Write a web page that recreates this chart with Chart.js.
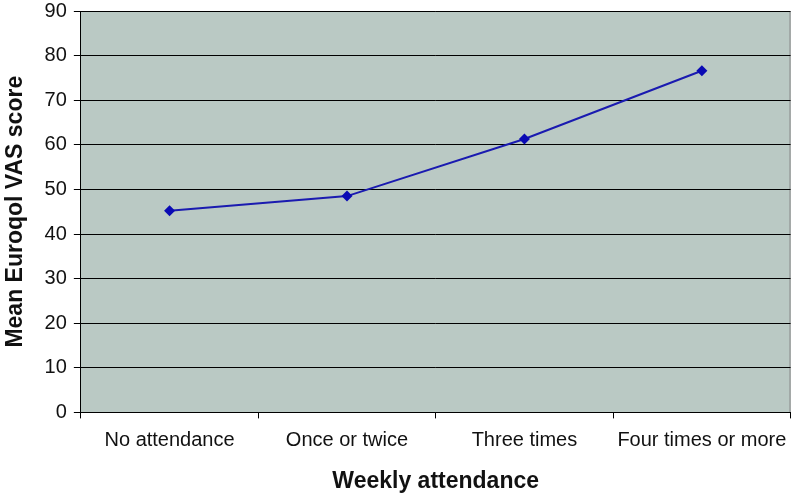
<!DOCTYPE html>
<html>
<head>
<meta charset="utf-8">
<script src="https://cdn.jsdelivr.net/npm/chart.js@4/dist/chart.umd.min.js"></script>
<style>
html, body { margin: 0; padding: 0; background: #fff; overflow: hidden; }
#wrap { width: 797px; height: 503px; margin-top: -8px; }
</style>
</head>
<body>
<div id="wrap"><canvas id="chart"></canvas></div>
<script>
var categories = ["No attendance", "Once or twice", "Three times", "Four times or more"];
var vasScores = [45.2, 48.5, 61.3, 76.6];
var yTicks = [0, 10, 20, 30, 40, 50, 60, 70, 80, 90];

// grey-green plot background like the original spreadsheet chart
var plotBg = {
  id: 'plotBg',
  beforeDraw: function (chart) {
    var a = chart.chartArea, ctx = chart.ctx;
    ctx.save();
    ctx.fillStyle = '#bac9c4';
    ctx.fillRect(a.left, a.top, a.right - a.left, a.bottom - a.top);
    ctx.strokeStyle = '#808080';
    ctx.lineWidth = 1;
    ctx.beginPath();
    ctx.moveTo(a.left, a.top + 0.5);
    ctx.lineTo(a.right - 0.5, a.top + 0.5);
    ctx.lineTo(a.right - 0.5, a.bottom);
    ctx.stroke();
    ctx.restore();
  }
};

var FONT = 'Liberation Sans, Arial, sans-serif';
var CHART = document.getElementById("chart");
var lineChart = new Chart(CHART, {
  type: 'line',
  data: {
    labels: categories,
    datasets: [{
      data: vasScores,
      borderColor: '#1a1ab0',
      backgroundColor: '#0a0ab4',
      borderWidth: 2,
      pointStyle: 'rectRot',
      pointRadius: 5.5,
      pointHoverRadius: 5.5,
      pointBorderWidth: 0,
      tension: 0,
      fill: false
    }]
  },
  plugins: [plotBg],
  options: {
    responsive: true,
    maintainAspectRatio: false,
    animation: false,
    layout: { padding: { top: 0, right: 0, left: 2, bottom: 0 } },
    plugins: {
      legend: { display: false },
      tooltip: { enabled: false }
    },
    scales: {
      x: {
        offset: true,
        grid: {
          offset: true,
          drawOnChartArea: false,
          drawTicks: true,
          tickLength: 6,
          color: '#000'
        },
        border: { color: '#000', width: 1 },
        ticks: {
          color: '#111',
          font: { family: FONT, size: 20 },
          padding: 10,
          maxRotation: 0,
          autoSkip: false
        },
        title: {
          display: true,
          text: 'Weekly attendance',
          color: '#111',
          font: { family: FONT, size: 23, weight: 'bold' },
          padding: { top: 5, bottom: 0 }
        }
      },
      y: {
        min: 0,
        max: 90,
        afterBuildTicks: function (axis) {
          axis.ticks = yTicks.map(function (v) { return { value: v }; });
        },
        grid: {
          color: '#000',
          lineWidth: 1,
          drawTicks: true,
          tickLength: 7
        },
        border: { color: '#000', width: 1 },
        ticks: {
          color: '#111',
          font: { family: FONT, size: 20 },
          padding: 7
        },
        title: {
          display: true,
          text: 'Mean Euroqol VAS score',
          color: '#111',
          font: { family: FONT, size: 23, weight: 'bold' },
          padding: { top: 0, bottom: 8 }
        }
      }
    }
  }
});
</script>
</body>
</html>
